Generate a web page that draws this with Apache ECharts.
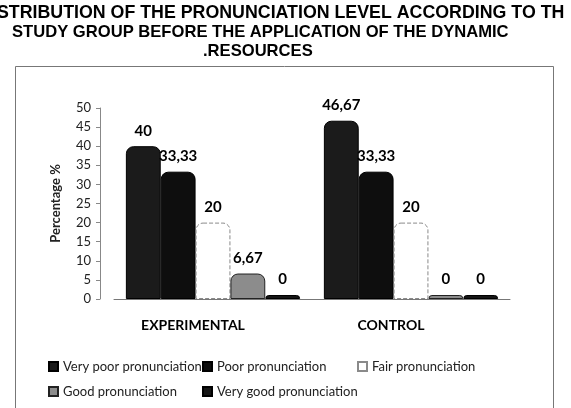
<!DOCTYPE html>
<html>
<head>
<meta charset="utf-8">
<script src="https://cdn.jsdelivr.net/npm/echarts@6/dist/echarts.min.js"></script>
<style>
  html, body { margin: 0; padding: 0; background: #fff; }
  #main { width: 571px; height: 408px; }
</style>
</head>
<body>
<div id="main"></div>
<script>
// data
var groups = ['EXPERIMENTAL', 'CONTROL'];
var levels = ['Very poor pronunciation', 'Poor pronunciation', 'Fair pronunciation', 'Good pronunciation', 'Very good pronunciation'];
var veryPoor = [40, 46.67];
var poor = [33.33, 33.33];
var fair = [20, 20];
var good = [6.67, 0];
var veryGood = [0, 0];
var yTicks = [0, 50, 5]; // min, max, step

var titleLines = [
    'STRIBUTION OF THE PRONUNCIATION LEVEL ACCORDING TO TH',
    'STUDY GROUP BEFORE THE APPLICATION OF THE DYNAMIC',
    '.RESOURCES'
];

var myChart = echarts.init(document.getElementById('main'));

var font = 'Lato, "Open Sans", sans-serif';
var titleFont = '"Liberation Sans", Arial, sans-serif';

// 每个系列的样式
var styles = [
    {color: '#1b1b1b', borderColor: '#000', borderWidth: 1},
    {color: '#0e0e0e', borderColor: '#000', borderWidth: 1},
    {color: '#ffffff', borderColor: '#8a8a8a', borderWidth: 1, borderType: 'dashed'},
    {color: '#8c8c8c', borderColor: '#222', borderWidth: 1},
    {color: '#151515', borderColor: '#000', borderWidth: 1}
];
var values = [veryPoor, poor, fair, good, veryGood];

function makeSeries(i) {
    var s = styles[i];
    return {
        name: levels[i],
        type: 'bar',
        barGap: 0,
        barCategoryGap: '12%',
        barMinHeight: 4,
        data: values[i],
        itemStyle: {
            color: s.color,
            borderColor: s.borderColor,
            borderWidth: s.borderWidth,
            borderType: s.borderType || 'solid',
            borderRadius: [7, 7, 0, 0]
        },
        label: {
            show: true,
            position: 'top',
            distance: 8,
            color: '#000',
            fontFamily: font,
            fontWeight: 'bold',
            fontSize: 15,
            formatter: function (p) {
                return String(p.value).replace('.', ',');
            }
        }
    };
}

// 图例位置：两行三列
var legendPos = [[48, 360], [202, 360], [357, 360], [48, 385], [202, 385]];
var legends = levels.map(function (name, i) {
    return {
        left: legendPos[i][0],
        top: legendPos[i][1],
        data: [name],
        icon: 'rect',
        itemWidth: 9,
        itemHeight: 9,
        itemGap: 0,
        padding: 0,
        selectedMode: false,
        textStyle: {fontFamily: font, fontSize: 13, color: '#222', padding: [0, 0, 0, 0]}
    };
});

var option = {
    animation: false,
    backgroundColor: '#fff',
    title: [
        {text: titleLines[0], left: -3, top: 4, size: 17.8},
        {text: titleLines[1], left: 12, top: 24, size: 16.6},
        {text: titleLines[2], left: 203, top: 43, size: 16.6}
    ].map(function (t) {
        t.padding = 0;
        t.textStyle = {fontFamily: titleFont, fontWeight: 'bold', fontSize: t.size, color: '#000'};
        delete t.size;
        return t;
    }),
    graphic: [{
        type: 'rect',
        shape: {x: 15.5, y: 66.5, width: 538, height: 360},
        style: {fill: null, stroke: '#777', lineWidth: 1},
        z: -1
    }],
    legend: legends,
    grid: {left: 114, right: 61, top: 108, bottom: 109},
    xAxis: {
        type: 'category',
        data: groups,
        axisLine: {lineStyle: {color: '#777'}},
        axisTick: {show: false},
        axisLabel: {
            margin: 19,
            color: '#000',
            fontFamily: font,
            fontWeight: 'bold',
            fontSize: 14,
            padding: [0, 40, 0, 0]
        }
    },
    yAxis: {
        type: 'value',
        min: yTicks[0],
        max: yTicks[1],
        interval: yTicks[2],
        offset: 14,
        name: 'Percentage %',
        nameLocation: 'middle',
        nameGap: 38,
        nameTextStyle: {fontFamily: font, fontWeight: 'bold', fontSize: 13, color: '#222'},
        axisLine: {show: true, lineStyle: {color: '#888'}},
        axisTick: {show: true, length: 4, lineStyle: {color: '#888'}},
        splitLine: {show: false},
        axisLabel: {margin: 9, color: '#222', fontFamily: font, fontSize: 13}
    },
    series: levels.map(function (n, i) { return makeSeries(i); })
};

myChart.setOption(option);
</script>
</body>
</html>
